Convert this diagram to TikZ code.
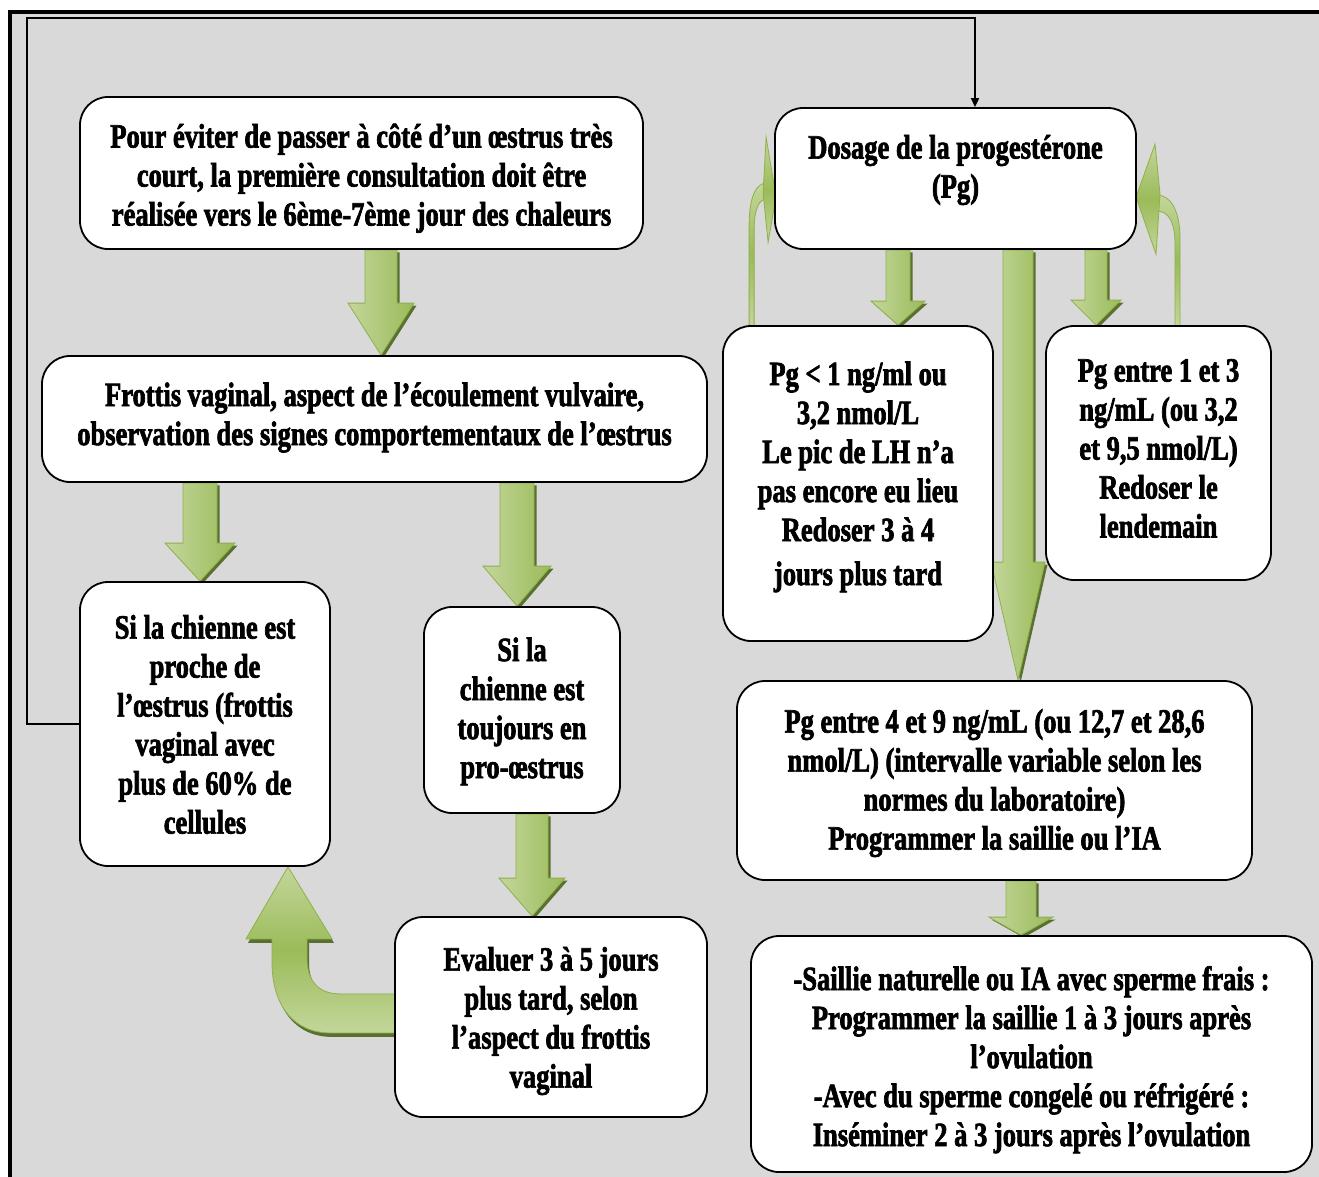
\documentclass[tikz,border=0pt]{standalone}
\usepackage{fontspec}
\setmainfont{Liberation Serif}[FakeStretch=0.78, BoldFeatures={FakeBold=2}]
\usetikzlibrary{calc,positioning,arrows.meta}

\definecolor{bgray}{HTML}{D9D9D9}
\definecolor{glight}{HTML}{C3D69B}
\definecolor{gmid}{HTML}{9BBB59}
\definecolor{gline}{HTML}{8FB04A}
\definecolor{gshade}{HTML}{5A7030}

\pgfdeclarelayer{back}
\pgfdeclarelayer{arrows}
\pgfsetlayers{back,arrows,main}

% box text, raised by #1 from the centre of the box
\newcommand{\btext}[2][-9pt]{\raisebox{#1}[0pt][0pt]{\begin{tabular}{@{}c@{}}#2\end{tabular}}}

% block arrow going down: from, to, half shaft, half head, head length
\newcommand{\garrow}[5]{%
  \begin{scope}[transform canvas={shift={(2.5pt,-2.5pt)}}]
    \fill[gshadow] let \p1=#1, \p2=#2 in
      (\x1-#3,\y1) -- (\x1+#3,\y1) -- (\x1+#3,\y2+#5) -- (\x1+#4,\y2+#5)
      -- (\x1,\y2) -- (\x1-#4,\y2+#5) -- (\x1-#3,\y2+#5) -- cycle;
  \end{scope}
  \path[gbody] let \p1=#1, \p2=#2 in
      (\x1-#3,\y1) -- (\x1+#3,\y1) -- (\x1+#3,\y2+#5) -- (\x1+#4,\y2+#5)
      -- (\x1,\y2) -- (\x1-#4,\y2+#5) -- (\x1-#3,\y2+#5) -- cycle;
}

\begin{document}
\begin{tikzpicture}[x=1pt, y=-1pt,
  box/.style={draw, line width=1.8pt, fill=white, rounded corners=28pt,
    inner sep=0pt, font=\fontsize{34}{39}\selectfont\bfseries},
  gbody/.style={left color=glight, right color=gmid, draw=gline, line width=0.8pt},
  gcurve/.style={top color=glight, bottom color=glight, middle color=gmid, draw=gline, line width=0.8pt},
  gshadow/.style={fill=gshade},
  loopline/.style={line width=1.8pt, -{Triangle[length=9pt,width=8pt]}}]

\useasboundingbox (0,0) rectangle (1319,1176);

\begin{pgfonlayer}{back}
\fill[white] (0,0) rectangle (1319,1176);
\fill[bgray] (10,12) rectangle (1340,1200);
\draw[line width=4pt] (10,1200) -- (10,12) -- (1340,12);
\end{pgfonlayer}

\node (pour) at (361.5,173) [box, minimum width=563pt, minimum height=152pt]
  {\btext[-12pt]{Pour éviter de passer à côté d’un œstrus très\\court, la première consultation doit être\\réalisée vers le 6ème-7ème jour des chaleurs}};
\node (frottis) at (374.5,419) [box, minimum width=665pt, minimum height=126pt]
  {\btext[-5pt]{Frottis vaginal, aspect de l’écoulement vulvaire,\\observation des signes comportementaux de l’œstrus}};
\node (proche) at (205,724) [box, minimum width=250pt, minimum height=284pt]
  {\btext[-10.5pt]{Si la chienne est\\proche de\\l’œstrus (frottis\\vaginal avec\\plus de 60\% de\\cellules}};
\node (proestrus) at (522,710) [box, minimum width=196pt, minimum height=206pt]
  {\btext[-8pt]{Si la\\chienne est\\toujours en\\pro-œstrus}};
\node (evaluer) at (551,1017) [box, minimum width=312pt, minimum height=200pt]
  {\btext[-10.5pt]{Evaluer 3 à 5 jours\\plus tard, selon\\l’aspect du frottis\\vaginal}};

\node (dosage) at (955.5,178.5) [box, minimum width=361pt, minimum height=141pt]
  {\btext[2pt]{Dosage de la progestérone\\(Pg)}};
\node (bas) at (858,483.5) [box, minimum width=270pt, minimum height=315pt]
  {\btext[0pt]{Pg < 1 ng/ml ou\\3,2 nmol/L\\Le pic de LH n’a\\pas encore eu lieu\\Redoser 3 à 4\\[5pt]jours plus tard}};
\node (moyen) at (1158.5,453) [box, minimum width=225pt, minimum height=254pt]
  {\btext[-5pt]{Pg entre 1 et 3\\ng/mL (ou 3,2\\et 9,5 nmol/L)\\Redoser le\\lendemain}};
\node (pic) at (994.5,780.5) [box, minimum width=515pt, minimum height=199pt]
  {\btext[-9pt]{Pg entre 4 et 9 ng/mL (ou 12,7 et 28,6\\nmol/L) (intervalle variable selon les\\normes du laboratoire)\\Programmer la saillie ou l’IA}};
\node (saillie) at (1031.5,1054) [box, minimum width=561pt, minimum height=236pt]
  {\btext[-12.5pt]{-Saillie naturelle ou IA avec sperme frais :\\Programmer la saillie 1 à 3 jours après\\l’ovulation\\-Avec du sperme congelé ou réfrigéré :\\Inséminer 2 à 3 jours après l’ovulation}};

\begin{pgfonlayer}{arrows}
\foreach \f/\t/\xx/\s/\h/\l in {pour/frottis/381/16/33/52, frottis/proche/200/17/35/38,
    frottis/proestrus/517/17/34/40, proestrus/evaluer/532/16/33/38,
    dosage/bas/898/12/27/24, dosage/moyen/1096/11/25/25,
    dosage/pic/1018/15/27/118, pic/saillie/1021/15/32/18} {
  \garrow{(\xx,0 |- \f.south)}{(\xx,0 |- \t.north)}{\s pt}{\h pt}{\l pt}
}

% curved arrow back to proche
\begin{scope}[shift={(proche.south)}]
\foreach \st/\dx/\dy in {gshadow/2/4, gcurve/0/0} {
  \path[\st, shift={(\dx,\dy)}] (83,0) -- (127,72) -- (102,72) -- (102,92)
    .. controls (102,112) and (112,127) .. (135,127) -- (190,127) -- (190,166) -- (125,166)
    .. controls (90,166) and (67,140) .. (67,95) -- (67,72) -- (41,72) -- cycle;
}
\end{scope}

% thin curved arrows back to dosage
\begin{scope}[shift={(bas.north west)}]
\path[gcurve] (27,1) -- (27,-100) .. controls (27,-130) and (35,-142) .. (44,-142)
  -- (44,-126) .. controls (38,-126) and (32,-118) .. (32,-95) -- (32,1) -- cycle;
\path[gcurve] (44,-188) -- (54,-128) -- (46,-83) -- (41,-132) -- cycle;
\end{scope}
\begin{scope}[shift={(moyen.north)}]
\path[gcurve] (21.5,1) -- (21.5,-86) .. controls (21.5,-116) and (11.5,-130) .. (-1.5,-130)
  -- (-1.5,-114) .. controls (9.5,-114) and (16.5,-104) .. (16.5,-81) -- (16.5,1) -- cycle;
\path[gcurve] (-3.5,-181) -- (-22.5,-128) -- (-2.5,-71) -- (1.5,-131) -- cycle;
\end{scope}

% loop from proche back up to dosage
\coordinate (loopL) at (27,18);
\coordinate (loopR) at (975,18);
\draw[loopline] (proche.west) -| (loopL) -- (loopR) -- (loopR |- dosage.north);
\end{pgfonlayer}
\end{tikzpicture}
\end{document}
